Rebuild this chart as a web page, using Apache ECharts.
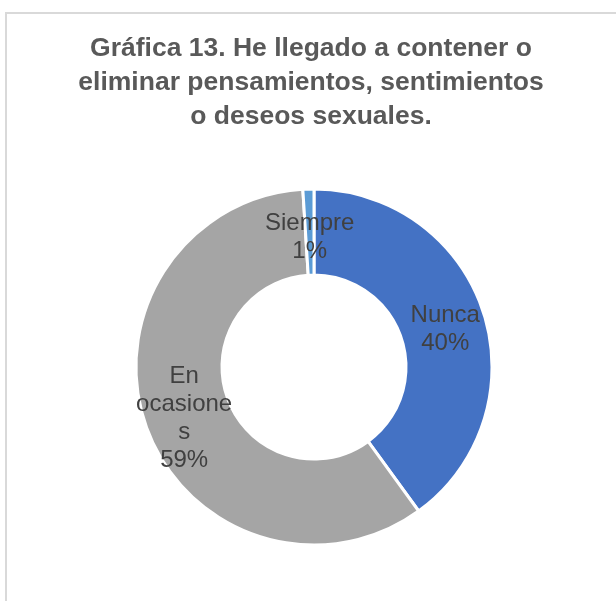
<!DOCTYPE html>
<html>
<head>
<meta charset="utf-8">
<script src="https://cdn.jsdelivr.net/npm/echarts@6/dist/echarts.min.js"></script>
<style>
html,body{margin:0;padding:0;background:#fff;}
#chart{width:616px;height:601px;}
</style>
</head>
<body>
<div id="chart"></div>
<script>
const titleText = 'Gráfica 13. He llegado a contener o\neliminar pensamientos, sentimientos\no deseos sexuales.';
const categories = ['Nunca', 'En ocasiones', 'Siempre'];
const labelTexts = ['Nunca', 'En\nocasione\ns', 'Siempre'];
const values = [40, 59, 1];
const colors = ['#4472C4', '#A5A5A5', '#5B9BD5'];

const chart = echarts.init(document.getElementById('chart'), null, {renderer: 'canvas'});
chart.setOption({
  animation: false,
  backgroundColor: '#ffffff',
  graphic: [{
    type: 'rect',
    shape: {x: 6, y: 13, width: 700, height: 700},
    style: {fill: 'none', stroke: '#D9D9D9', lineWidth: 2},
    silent: true
  }],
  title: {
    text: titleText,
    left: 311,
    top: 32,
    padding: 0,
    textAlign: 'center',
    textStyle: {
      fontFamily: 'Liberation Sans, Arial, sans-serif',
      fontSize: 26.5,
      fontWeight: 'bold',
      color: '#595959',
      lineHeight: 34,
      align: 'center'
    }
  },
  series: [{
    type: 'pie',
    center: [314, 367],
    radius: [92, 178],
    startAngle: 90,
    clockwise: true,
    avoidLabelOverlap: false,
    itemStyle: {borderColor: '#ffffff', borderWidth: 3},
    label: {
      show: true,
      position: 'inside',
      fontFamily: 'Liberation Sans, Arial, sans-serif',
      fontSize: 24,
      lineHeight: 28,
      color: '#404040',
      align: 'center',
      formatter: function (p) {
        return labelTexts[p.dataIndex] + '\n' + Math.round(p.percent) + '%';
      }
    },
    labelLayout: function (params) {
      return {dy: params.dataIndex === 2 ? 8 : 5};
    },
    labelLine: {show: false},
    emphasis: {disabled: true},
    data: categories.map((c, i) => ({name: c, value: values[i], itemStyle: {color: colors[i]}}))
  }]
});
</script>
</body>
</html>
